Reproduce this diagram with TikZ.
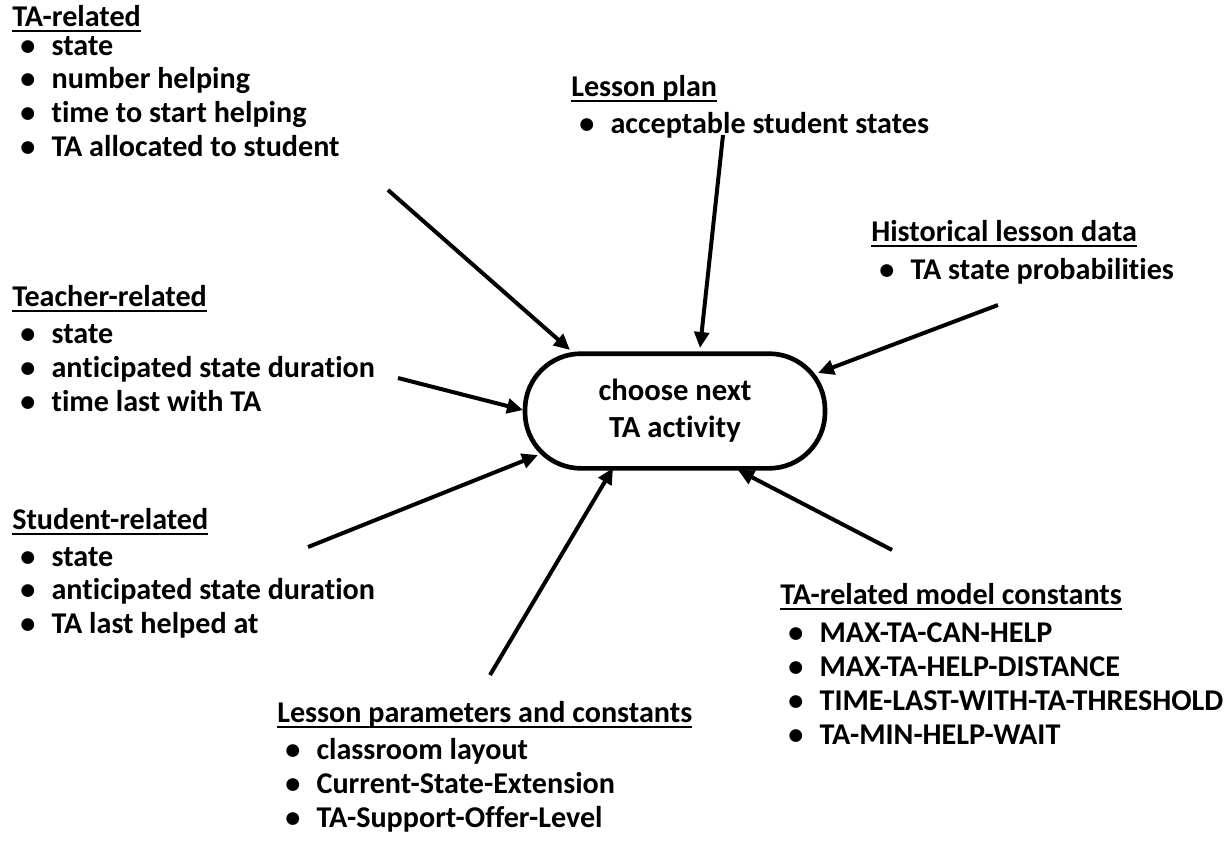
\documentclass[tikz,border=0pt]{standalone}
\usepackage{fontspec}
\setmainfont{Carlito}[RawFeature={-liga}]
\usetikzlibrary{arrows.meta}
\newcommand\hdul[1]{\setbox0\hbox{#1}\rlap{\rule[-4.5pt]{\wd0}{1.6pt}}\box0}
\tikzset{
  txt/.style={inner sep=0pt, anchor=base west, font=\fontsize{22.6pt}{26pt}\selectfont\bfseries},
  head/.style={txt},
  itm/.style={txt},
  arr/.style={line width=3pt, -{Triangle[length=12pt,width=11pt]}},
  hub/.style={draw, line width=3.5pt, rounded corners=42pt, minimum width=225pt, minimum height=86pt,
    align=center, inner sep=0pt, font=\fontsize{23pt}{27.75pt}\selectfont\bfseries}
}
\newcommand\bul[1]{\makebox[29.5pt][l]{\hspace*{6pt}•}#1}
\begin{document}
\begin{tikzpicture}[x=0.75pt,y=-0.75pt]
\path[use as bounding box, fill=white] (0,0) rectangle (1227,857);
% hub
\node[hub] (c) at (675,411) {choose next\\TA activity};
% TA-related
\node[head] (taH) at (12,26) {\hdul{TA-related}};
\node[itm] (ta1) at (12,55) {\bul{state}};
\node[itm] (ta2) at (12,88) {\bul{number helping}};
\node[itm] (ta3) at (12,122) {\bul{time to start helping}};
\node[itm] (ta4) at (12,156) {\bul{TA allocated to student}};
% Teacher-related
\node[head] (teH) at (12,306) {\hdul{Teacher-related}};
\node[itm] (te1) at (12,343) {\bul{state}};
\node[itm] (te2) at (12,377) {\bul{anticipated state duration}};
\node[itm] (te3) at (12,411) {\bul{time last with TA}};
% Student-related
\node[head] (stH) at (12,529) {\hdul{Student-related}};
\node[itm] (st1) at (12,566) {\bul{state}};
\node[itm] (st2) at (12,599) {\bul{anticipated state duration}};
\node[itm] (st3) at (12,633) {\bul{TA last helped at}};
% Lesson plan
\node[head] (lpH) at (571,96) {\hdul{Lesson plan}};
\node[itm] (lp1) at (571,133) {\bul{acceptable student states}};
% Historical
\node[head] (hiH) at (871,241) {\hdul{Historical lesson data}};
\node[itm] (hi1) at (871,279) {\bul{TA state probabilities}};
% TA-related model constants
\node[head] (mcH) at (780,604) {\hdul{TA-related model constants}};
\node[itm] (mc1) at (780,642) {\bul{MAX-TA-CAN-HELP}};
\node[itm] (mc2) at (780,676) {\bul{MAX-TA-HELP-DISTANCE}};
\node[itm] (mc3) at (780,710) {\bul{TIME-LAST-WITH-TA-THRESHOLD}};
\node[itm] (mc4) at (780,744) {\bul{TA-MIN-HELP-WAIT}};
% Lesson parameters
\node[head] (lcH) at (277,722) {\hdul{Lesson parameters and constants}};
\node[itm] (lc1) at (277,759) {\bul{classroom layout}};
\node[itm] (lc2) at (277,793) {\bul{Current-State-Extension}};
\node[itm] (lc3) at (277,827) {\bul{TA-Support-Offer-Level}};
% arrow ends
\coordinate (s1) at (388,190); \coordinate (e1) at (570,350);
\coordinate (s2) at (723,135); \coordinate (e2) at (700,348);
\coordinate (s3) at (998,305); \coordinate (e3) at (818,373);
\coordinate (s4) at (398,378); \coordinate (e4) at (523,410);
\coordinate (s5) at (308,547); \coordinate (e5) at (538,455);
\coordinate (s6) at (490,675); \coordinate (e6) at (613,468);
\coordinate (s7) at (892,550); \coordinate (e7) at (738,470);
\foreach \i in {1,...,7} {\draw[arr] (s\i) -- (e\i);}
\end{tikzpicture}
\end{document}
